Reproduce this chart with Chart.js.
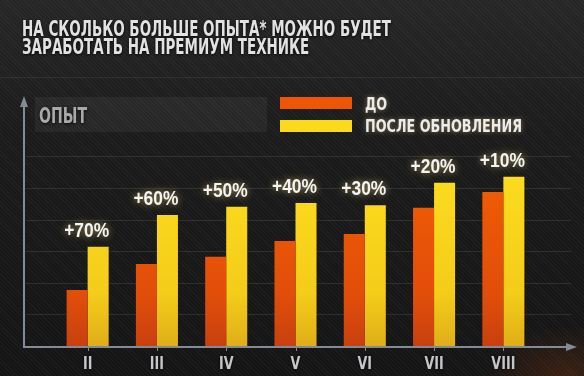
<!DOCTYPE html>
<html lang="ru">
<head>
<meta charset="utf-8">
<title>Опыт на премиум технике</title>
<script src="https://cdn.jsdelivr.net/npm/chart.js@4.4.1/dist/chart.umd.min.js"></script>
<style>
  html, body { margin: 0; padding: 0; background: #161616; }
  #wrap {
    position: relative; width: 584px; height: 376px; overflow: hidden;
    background:
      radial-gradient(ellipse 80px 50px at 565px 376px, rgba(200,75,15,0.22), rgba(0,0,0,0) 100%),
      repeating-linear-gradient(45deg, rgba(255,255,255,0.035) 0px, rgba(255,255,255,0.035) 1px, rgba(0,0,0,0) 1px, rgba(0,0,0,0) 3px),
      linear-gradient(#262626, #1b1b1b 35%, #141414);
  }
</style>
</head>
<body>
<div id="wrap"><canvas id="chart" width="584" height="376"></canvas></div>
<script>
const titleLines = ["НА СКОЛЬКО БОЛЬШЕ ОПЫТА* МОЖНО БУДЕТ", "ЗАРАБОТАТЬ НА ПРЕМИУМ ТЕХНИКЕ"];
const axisTitle = "ОПЫТ";
const tiers = ["II", "III", "IV", "V", "VI", "VII", "VIII"];
const seriesNames = ["ДО", "ПОСЛЕ ОБНОВЛЕНИЯ"];
const before = [17.7, 25.9, 28.2, 33.2, 35.4, 43.7, 48.7];
const after = [31.4, 41.4, 44.0, 45.2, 44.5, 51.6, 53.5];
const gains = ["+70%", "+60%", "+50%", "+40%", "+30%", "+20%", "+10%"];
const gridValues = [10, 20, 30, 40, 50, 60];

const NARROW = "'Liberation Sans Narrow', 'DejaVu Sans Condensed', 'Roboto Condensed', sans-serif";
const WIDE = "'Liberation Sans', Arial, sans-serif";

function gradientFill(stops) {
    return function(c) {
        const area = c.chart.chartArea;
        if (!area) return stops[0];
        const g = c.chart.ctx.createLinearGradient(0, area.top + 80, 0, area.bottom);
        g.addColorStop(0, stops[0]);
        g.addColorStop(0.7, stops[1]);
        g.addColorStop(1, stops[2]);
        return g;
    };
}

// text drawn with a horizontal squeeze factor
function scaledText(ctx, text, x, y, sx, align) {
    ctx.save();
    ctx.translate(x, y);
    ctx.scale(sx, 1);
    ctx.textAlign = align || 'left';
    ctx.fillText(text, 0, 0);
    ctx.restore();
}

const decor = {
    id: 'decor',
    beforeDatasetsDraw(chart) {
        const ctx = chart.ctx;
        const y = chart.scales.y;
        const x0 = 24, x1 = 577, base = y.getPixelForValue(0);

        // band behind the axis title
        ctx.save();
        ctx.fillStyle = 'rgba(255,255,255,0.05)';
        ctx.fillRect(35, 97, 232, 35);
        // faint line under the title block
        ctx.fillStyle = 'rgba(255,255,255,0.07)';
        ctx.fillRect(0, 77, 584, 1);

        // grid lines
        ctx.strokeStyle = 'rgba(200,205,215,0.12)';
        ctx.lineWidth = 1;
        gridValues.forEach(v => {
            const py = Math.round(y.getPixelForValue(v)) + 0.5;
            ctx.beginPath();
            ctx.moveTo(x0 + 2, py);
            ctx.lineTo(x1 - 6, py);
            ctx.stroke();
        });

        // axes with arrows
        ctx.strokeStyle = '#848b94';
        ctx.fillStyle = '#848b94';
        ctx.lineWidth = 2;
        ctx.beginPath();
        ctx.moveTo(x0, base + 1);
        ctx.lineTo(x0, 104);
        ctx.moveTo(x0 - 1, base + 1);
        ctx.lineTo(x1 - 8, base + 1);
        ctx.stroke();
        ctx.beginPath();
        ctx.moveTo(x0, 96); ctx.lineTo(x0 - 4, 107); ctx.lineTo(x0 + 4, 107); ctx.closePath();
        ctx.fill();
        ctx.beginPath();
        ctx.moveTo(x1, base + 1); ctx.lineTo(x1 - 11, base - 3); ctx.lineTo(x1 - 11, base + 5); ctx.closePath();
        ctx.fill();

        // tick marks under each tier
        const xs = chart.scales.x;
        ctx.lineWidth = 1;
        tiers.forEach((t, i) => {
            const px = Math.round(xs.getPixelForValue(i)) + 0.5;
            ctx.beginPath();
            ctx.moveTo(px, base + 1);
            ctx.lineTo(px, base + 5);
            ctx.stroke();
        });
        ctx.restore();
    },
    afterDatasetsDraw(chart) {
        const ctx = chart.ctx;
        const xs = chart.scales.x, y = chart.scales.y;
        ctx.save();
        ctx.textBaseline = 'alphabetic';

        // title
        ctx.font = "bold 22px " + NARROW;
        ctx.shadowColor = 'rgba(0,0,0,0.8)';
        ctx.shadowBlur = 3;
        ctx.shadowOffsetY = 1;
        const tg = ctx.createLinearGradient(0, 20, 0, 56);
        tg.addColorStop(0, '#e2e2e2');
        tg.addColorStop(1, '#b4b4b4');
        ctx.fillStyle = tg;
        const sx = 369 / ctx.measureText(titleLines[0]).width;
        scaledText(ctx, titleLines[0], 22, 36, sx);
        scaledText(ctx, titleLines[1], 22, 54, sx);

        // axis title
        ctx.font = "bold 21px " + NARROW;
        ctx.fillStyle = '#a9a9a9';
        scaledText(ctx, axisTitle, 39, 123, 48 / ctx.measureText(axisTitle).width);

        // legend
        const colors = ['#ee5606', '#fbd91c'];
        ctx.shadowColor = 'rgba(0,0,0,0)';
        seriesNames.forEach((name, i) => {
            const top = i === 0 ? 97 : 120;
            ctx.fillStyle = colors[i];
            ctx.fillRect(280, top, 72, 12);
        });
        ctx.font = "bold 17px " + NARROW;
        ctx.fillStyle = '#ececec';
        ctx.shadowColor = 'rgba(255,230,150,0.45)';
        ctx.shadowBlur = 5;
        ctx.shadowOffsetY = 0;
        const lsx = 157 / ctx.measureText(seriesNames[1]).width;
        scaledText(ctx, seriesNames[0], 365, 110, lsx);
        scaledText(ctx, seriesNames[1], 365, 132, lsx);

        // gain labels above the bars
        ctx.font = "bold 20px " + WIDE;
        ctx.fillStyle = '#f4f4f4';
        ctx.shadowColor = 'rgba(255,225,120,0.6)';
        ctx.shadowBlur = 7;
        const gsx = 45 / ctx.measureText(gains[0]).width;
        gains.forEach((g, i) => {
            const px = xs.getPixelForValue(i) - 1;
            const py = y.getPixelForValue(Math.max(before[i], after[i])) - 10;
            scaledText(ctx, g, px, py, gsx, 'center');
        });

        // tier labels
        ctx.font = "bold 18px " + NARROW;
        ctx.fillStyle = '#c4c6c9';
        ctx.shadowColor = 'rgba(0,0,0,0.8)';
        ctx.shadowBlur = 3;
        const rsx = 24 / ctx.measureText(tiers[6]).width;
        tiers.forEach((t, i) => {
            scaledText(ctx, t, xs.getPixelForValue(i), 369, rsx, 'center');
        });
        ctx.restore();
    }
};

new Chart(document.getElementById('chart'), {
    type: 'bar',
    data: {
        labels: tiers,
        datasets: [
            {
                label: seriesNames[0],
                data: before,
                backgroundColor: gradientFill(['#f05c04', '#e24e0a', '#c8400f']),
                borderWidth: 0
            },
            {
                label: seriesNames[1],
                data: after,
                backgroundColor: gradientFill(['#fcdc1e', '#f4cc1a', '#e0ae18']),
                borderWidth: 0
            }
        ]
    },
    options: {
        responsive: false,
        animation: false,
        layout: { padding: { left: 53, right: 46, top: 93, bottom: 30 } },
        datasets: { bar: { barPercentage: 1, categoryPercentage: 0.607 } },
        plugins: {
            legend: { display: false },
            tooltip: { enabled: false }
        },
        scales: {
            x: { display: false },
            y: { display: false, min: 0, max: 80 }
        }
    },
    plugins: [decor]
});
</script>
</body>
</html>
